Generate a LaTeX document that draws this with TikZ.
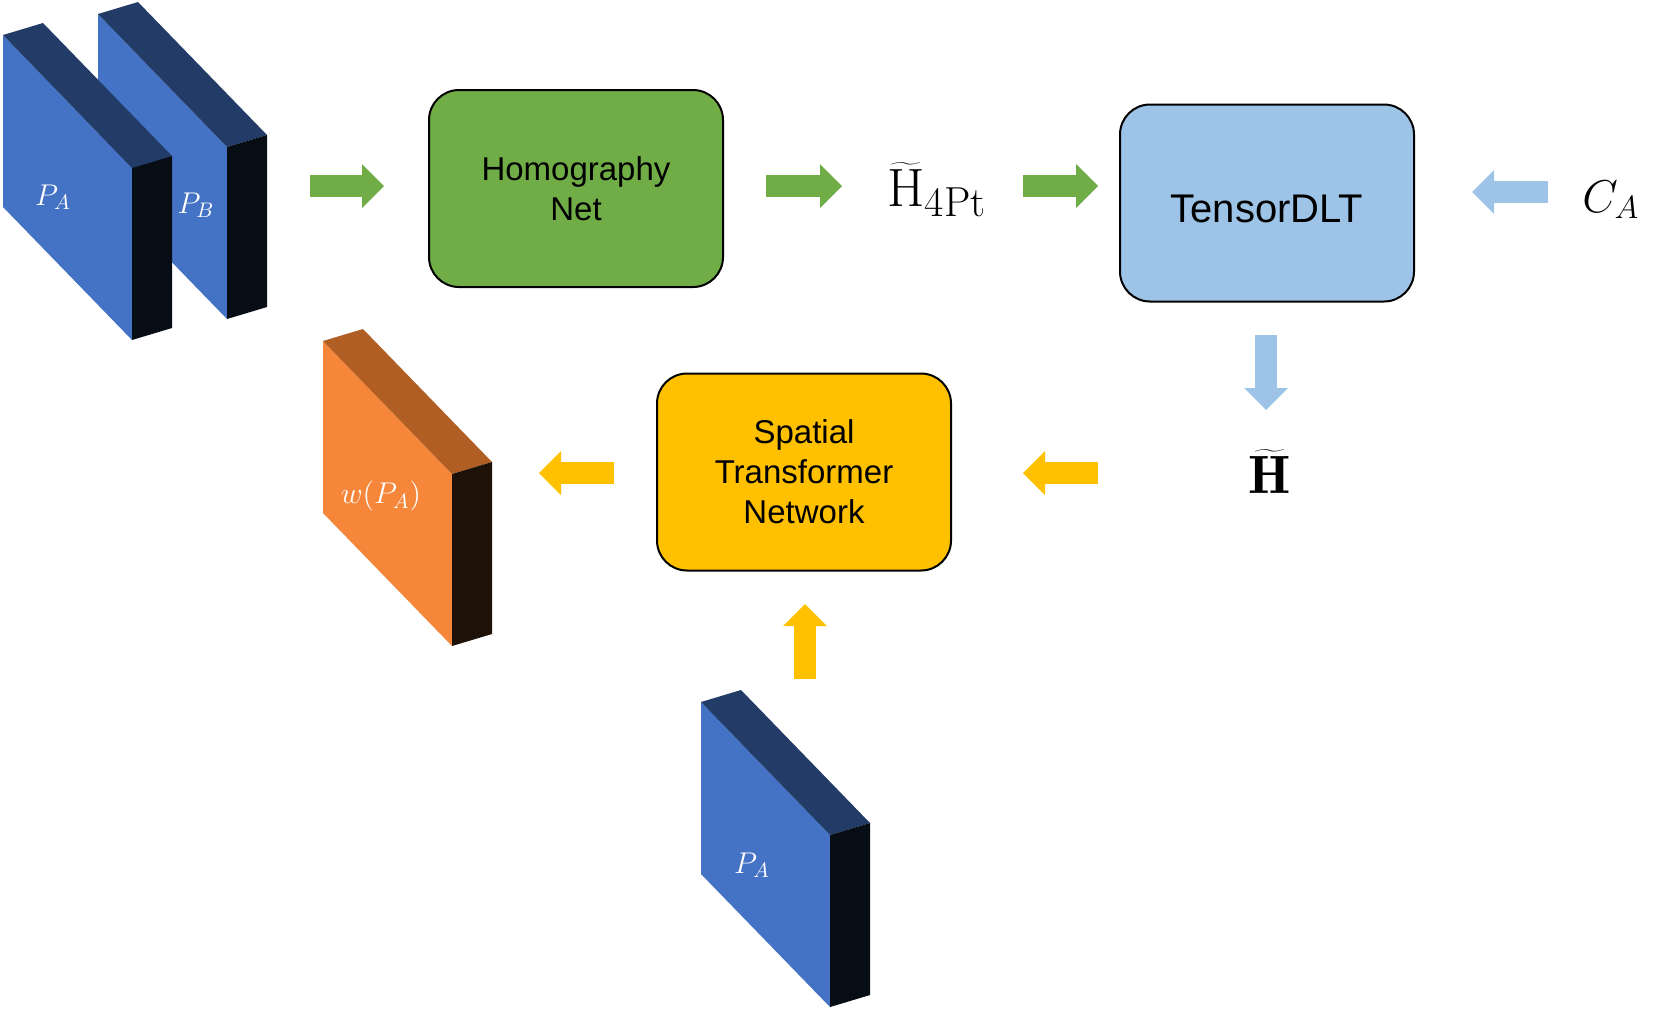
\RequirePackage{fix-cm}
\documentclass[tikz,border=0pt]{standalone}
\usepackage{fontspec}
\setsansfont{Liberation Sans}
\usetikzlibrary{arrows.meta}
\definecolor{hgreen}{HTML}{70AD47}
\definecolor{hblue}{HTML}{9DC3E6}
\definecolor{hgold}{HTML}{FFC000}
\definecolor{slabF}{HTML}{4472C4}
\definecolor{slabT}{HTML}{223B67}
\definecolor{slabS}{HTML}{070D15}
\definecolor{warpF}{HTML}{F5863A}
\definecolor{warpT}{HTML}{B05E23}
\definecolor{warpS}{HTML}{1E1107}
% slab: #1 front top-left corner, #2 front, #3 top, #4 side colour
\newcommand{\slab}[4]{%
  \fill[#2] #1 -- ++(129,133) -- ++(0,172) -- ++(-129,-133) -- cycle;
  \fill[#3] #1 -- ++(40,-12) -- ++(129,133) -- ++(-40,12) -- cycle;
  \fill[#4] #1 ++(129,133) -- ++(40,-12) -- ++(0,172) -- ++(-40,12) -- cycle;}
\begin{document}
\begin{tikzpicture}[x=0.5pt,y=-0.5pt,
  box/.style={draw,line width=1pt,rounded corners=15pt,minimum width=147pt,minimum height=98.5pt,align=center,font=\sffamily\fontsize{16.5}{20}\selectfont},
  blockarrow/.style={line width=11pt,-{Triangle[length=11pt,width=22pt,line width=0pt]}},
  slablabel/.style={text=white,font=\fontsize{15}{17}\selectfont},
  mathlabel/.style={inner sep=0pt,font=\fontsize{27}{30}\selectfont}]
\useasboundingbox (0,0) rectangle (1664,1009);
% input slabs
\slab{(98,14)}{slabF}{slabT}{slabS}
\slab{(3,35)}{slabF}{slabT}{slabS}
\slab{(323,341)}{warpF}{warpT}{warpS}
\slab{(701,702)}{slabF}{slabT}{slabS}
\node[slablabel](pa)at(53,197){$P_A$};
\node[slablabel](pb)at(196,205){$P_B$};
\node[slablabel](wpa)at(381,496){$w(P_A)$};
\node[slablabel](pa2)at(752,865){$P_A$};
% blocks
\node[box,fill=hgreen](hnet)at(576,188.5){Homography\\Net};
\node[box,fill=hblue,font=\sffamily\fontsize{20}{24}\selectfont,text height=19.5pt,text depth=0pt](dlt)at(1267,203){TensorDLT};
\node[box,fill=hgold](stn)at(804,472){Spatial\\Transformer\\Network};
% labels
\node[mathlabel,anchor=base west](h4)at(887,206){$\widetilde{\mathrm{H}}_{\hbox{\fontsize{21}{22}\selectfont 4Pt}}$};
\node[mathlabel,anchor=base](hh)at(1270,493){$\widetilde{\mathbf{H}}$};
\node[mathlabel,anchor=base west,font=\fontsize{23}{26}\selectfont](ca)at(1582,212){$C_A$};
% arrows
\coordinate(g1a)at(310,186); \coordinate(g1b)at(384,186);
\coordinate(g2a)at(766,186); \coordinate(g2b)at(842,186);
\coordinate(g3a)at(1023,186); \coordinate(g3b)at(1098,186);
\coordinate(b1a)at(1548,192); \coordinate(b1b)at(1472,192);
\coordinate(b2a)at(1266,335); \coordinate(b2b)at(1266,410);
\coordinate(o1a)at(1098,473); \coordinate(o1b)at(1023,473);
\coordinate(o2a)at(614,473); \coordinate(o2b)at(539,473);
\coordinate(o3a)at(805,679); \coordinate(o3b)at(805,604);
\draw[blockarrow,hgreen](g1a)--(g1b);
\draw[blockarrow,hgreen](g2a)--(g2b);
\draw[blockarrow,hgreen](g3a)--(g3b);
\draw[blockarrow,hblue](b1a)--(b1b);
\draw[blockarrow,hblue](b2a)--(b2b);
\draw[blockarrow,hgold](o1a)--(o1b);
\draw[blockarrow,hgold](o2a)--(o2b);
\draw[blockarrow,hgold](o3a)--(o3b);
\end{tikzpicture}
\end{document}
